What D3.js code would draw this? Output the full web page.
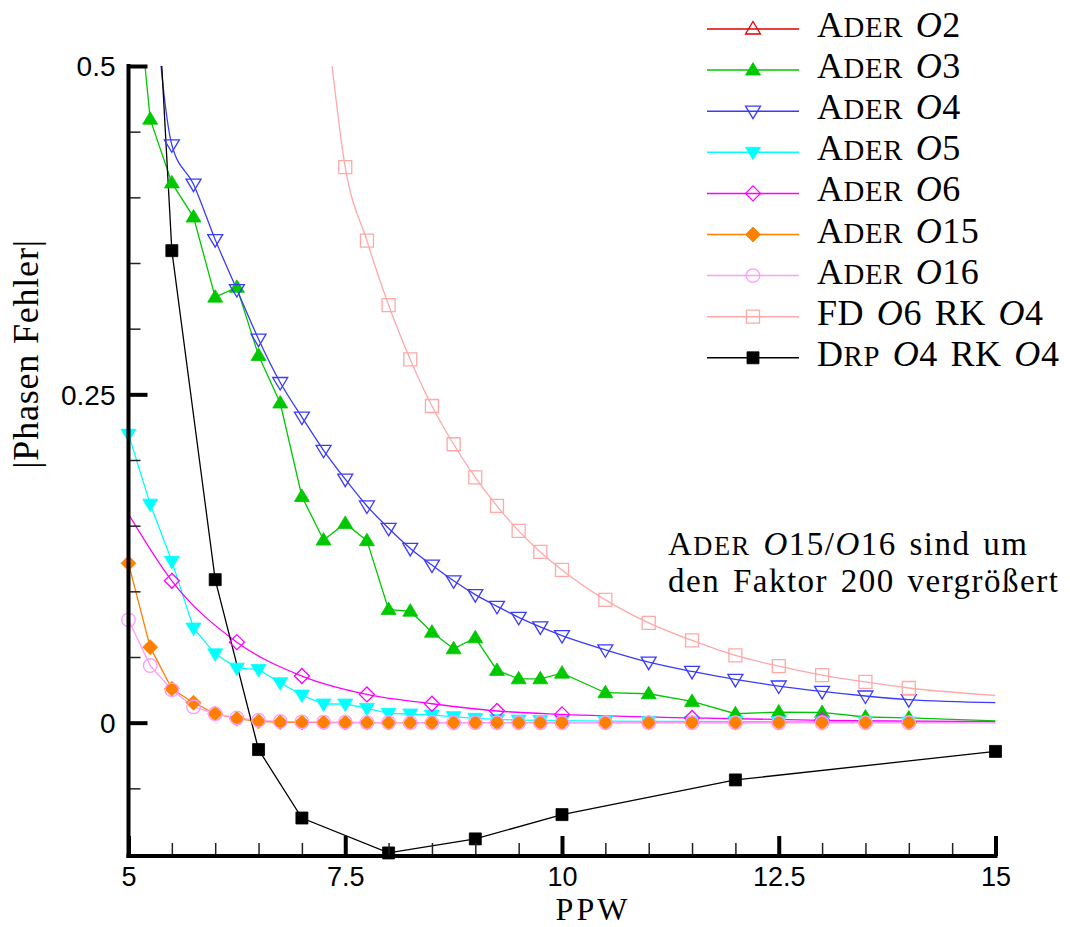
<!DOCTYPE html>
<html>
<head>
<meta charset="utf-8">
<script src="https://cdn.jsdelivr.net/npm/d3@7"></script>
<style>
  html, body { margin: 0; padding: 0; background: #fff; }
  svg { display: block; }
  text { white-space: pre; }
</style>
</head>
<body>
<svg id="chart" width="1070" height="927"></svg>
<script>
// Phase error over points per wavelength (PPW)
const ppw = [5, 5.25, 5.5, 5.75, 6, 6.25, 6.5, 6.75, 7, 7.25, 7.5, 7.75, 8, 8.25, 8.5, 8.75,
             9, 9.25, 9.5, 9.75, 10, 10.5, 11, 11.5, 12, 12.5, 13, 13.5, 14, 15];

const ader3 = [0.63, 0.4595, 0.411, 0.385, 0.324, 0.3315, 0.2796, 0.2434, 0.1722, 0.139,
               0.1517, 0.1386, 0.0861, 0.0849, 0.0689, 0.0562, 0.0646, 0.0398, 0.0334, 0.0334,
               0.0377, 0.0228, 0.022, 0.0162, 0.0068, 0.0081, 0.0078, 0.0043, 0.0036, 0.0013];
const ader4 = [0.8, 0.59, 0.44, 0.41, 0.3678, 0.3298, 0.292, 0.259, 0.2327, 0.2074,
               0.1854, 0.165, 0.148, 0.1327, 0.12, 0.108, 0.0975, 0.0886, 0.0802, 0.0729,
               0.0663, 0.0555, 0.0461, 0.039, 0.0329, 0.0279, 0.0238, 0.0203, 0.0175, 0.0152];
const ader5 = [0.2196, 0.1664, 0.1229, 0.072, 0.0524, 0.0415, 0.0405, 0.0304, 0.021, 0.0142,
               0.0142, 0.0109, 0.0071, 0.0066, 0.0058, 0.0046, 0.0033, 0.0025, 0.002, 0.0017,
               0.0015, 0.0012, 0.001, 0.0009, 0.0008, 0.0007, 0.0006, 0.0005, 0.0005, 0.0004];
const ader15 = [0.1213, 0.0575, 0.0258, 0.0152, 0.0068, 0.003, 0.001, 0.0003, 0.0002, 0.0001,
                0, 0, 0, 0, 0, 0, 0, 0, 0, 0, 0, 0, 0, 0, 0, 0, 0, 0, 0, 0];
const ader16 = [0.0783, 0.0435, 0.025, 0.012, 0.0068, 0.0036, 0.0018, 0.001, 0.0006, 0.0004,
                0.0003, 0.0002, 0.0001, 0, 0, 0, 0, 0, 0, 0, 0, 0, 0, 0, 0, 0, 0, 0, 0, 0];
const fdO6 = [null, null, null, null, null, null, null, null, null, 0.56,
              0.423, 0.367, 0.318, 0.2766, 0.2411, 0.212, 0.1867, 0.165, 0.146, 0.13,
              0.1163, 0.0935, 0.076, 0.0626, 0.0512, 0.043, 0.0362, 0.031, 0.0264, 0.0208];

// ADER O6 is sampled on a coarser set of PPW values
const ader6X = [5, 5.5, 6.25, 7, 7.75, 8.5, 9.25, 10, 11.5, 13, 15];
const ader6Y = [0.1588, 0.108, 0.0613, 0.0355, 0.0215, 0.0144, 0.0089, 0.0063, 0.0036, 0.0018, 0.0008];
const ader6Marked = [5.5, 6.25, 7, 7.75, 8.5, 9.25, 10, 11.5, 13];

// DRP O4 / RK O4 scheme
const drpX = [5, 5.5, 6, 6.5, 7, 8, 9, 10, 12, 15];
const drpY = [0.965, 0.3594, 0.1089, -0.0205, -0.0726, -0.0992, -0.0885, -0.07, -0.0436, -0.0219];

const legendLabels = ["Ader 𝒪2", "Ader 𝒪3", "Ader 𝒪4", "Ader 𝒪5", "Ader 𝒪6",
                      "Ader 𝒪15", "Ader 𝒪16", "FD 𝒪6 RK 𝒪4", "Drp 𝒪4 RK 𝒪4"];
const noteLines = ["Ader 𝒪15/𝒪16 sind um", "den Faktor 200 vergrößert"];

const xMajor = [5, 7.5, 10, 12.5, 15];
const xMinor = [5.5, 6, 6.5, 7, 8, 8.5, 9, 9.5, 10.5, 11, 11.5, 12, 13, 13.5, 14, 14.5];
const yMajor = [0, 0.25, 0.5];
const yMinor = [-0.05, 0.05, 0.1, 0.15, 0.2, 0.3, 0.35, 0.4, 0.45];

const xTitle = "PPW";
const yTitle = "|Phasen Fehler|";

// ---- series table ----
const zipPts = (xs, ys) => xs.map((x, i) => ({x, y: ys[i]})).filter(d => d.y !== null);
const lastX = ppw[ppw.length - 1];
const series = [
  {label: legendLabels[0], color: "#e00000", shape: "triUp",   filled: false, curve: d3.curveLinear, pts: [], marks: () => false},
  {label: legendLabels[1], color: "#00c800", shape: "triUp",   filled: true,  curve: d3.curveLinear, pts: zipPts(ppw, ader3), marks: d => d.x !== lastX},
  {label: legendLabels[2], color: "#3a3aff", shape: "triDown", filled: false, curve: d3.curveMonotoneX, pts: zipPts(ppw, ader4), marks: d => d.x !== lastX},
  {label: legendLabels[3], color: "#00ffff", shape: "triDown", filled: true,  curve: d3.curveLinear, pts: zipPts(ppw, ader5), marks: d => d.x !== lastX},
  {label: legendLabels[4], color: "#ff00ff", shape: "diamond", filled: false, curve: d3.curveMonotoneX, pts: zipPts(ader6X, ader6Y), marks: d => ader6Marked.includes(d.x)},
  {label: legendLabels[5], color: "#ff8000", shape: "diamond", filled: true,  curve: d3.curveLinear, pts: zipPts(ppw, ader15), marks: d => d.x !== lastX},
  {label: legendLabels[6], color: "#ff9cff", shape: "circle",  filled: false, curve: d3.curveLinear, pts: zipPts(ppw, ader16), marks: d => d.x !== lastX},
  {label: legendLabels[7], color: "#ffa8a8", shape: "square",  filled: false, curve: d3.curveMonotoneX, pts: zipPts(ppw, fdO6), marks: d => d.x !== lastX},
  {label: legendLabels[8], color: "#000000", shape: "squareS", filled: true,  curve: d3.curveLinear, pts: zipPts(drpX, drpY), marks: () => true}
];

// ---- layout ----
const svg = d3.select("#chart");
const x = d3.scaleLinear().domain([5, 15]).range([128.5, 995.5]);
const y = d3.scaleLinear().domain([-0.1, 0.5]).range([854, 66]);
const axisY0 = 856;   // baseline of the bottom axis
const SANS = "'Liberation Sans', Arial, Helvetica, sans-serif";
const SERIF = "'Liberation Serif', 'Times New Roman', serif";
const TEXT_SIZE = 36;

svg.append("defs").append("clipPath").attr("id", "plotClip")
  .append("rect").attr("x", x(5)).attr("y", y(0.5)).attr("width", x(15) - x(5)).attr("height", axisY0 - y(0.5));

function markerPath(shape) {
  switch (shape) {
    case "triUp":   return "M0,-7.5L7.5,5L-7.5,5Z";
    case "triDown": return "M0,7.5L7.5,-5L-7.5,-5Z";
    case "diamond": return "M0,-7.5L7.5,0L0,7.5L-7.5,0Z";
    case "square":  return "M-6.5,-6.5H6.5V6.5H-6.5Z";
    case "squareS": return "M-6,-6H6V6H-6Z";
    case "circle":  return d3.symbol(d3.symbolCircle, Math.PI * 6.8 * 6.8)();
  }
}
function drawMarker(g, s, cx, cy) {
  g.append("path").attr("d", markerPath(s.shape))
    .attr("transform", `translate(${cx},${cy})`)
    .attr("fill", s.filled ? s.color : "none")
    .attr("stroke", s.color)
    .attr("stroke-width", s.filled ? 0.8 : 1.3);
}

// ---- series lines and markers ----
const plot = svg.append("g");
const lineLayer = plot.append("g").attr("clip-path", "url(#plotClip)");
series.forEach(s => {
  if (!s.pts.length) return;
  const line = d3.line().x(d => x(d.x)).y(d => y(d.y)).curve(s.curve);
  lineLayer.append("path").datum(s.pts)
    .attr("d", line).attr("fill", "none")
    .attr("stroke", s.color).attr("stroke-width", 1.3);
  const mg = plot.append("g");
  s.pts.filter(d => s.marks(d) && d.y <= 0.5 && d.y >= -0.1)
    .forEach(d => drawMarker(mg, s, x(d.x), y(d.y)));
});

// ---- axes ----
const axes = svg.append("g");
// minor ticks
const yMinorAxis = d3.axisLeft(y).tickValues(yMinor).tickSize(-12).tickFormat("");
axes.append("g").attr("transform", `translate(${x(5)},0)`).call(yMinorAxis)
  .call(g => g.select(".domain").remove())
  .call(g => g.selectAll("line").attr("stroke", "#222").attr("stroke-width", 1.5));
const xMinorAxis = d3.axisBottom(x).tickValues(xMinor).tickSize(-13).tickFormat("");
axes.append("g").attr("transform", `translate(0,${axisY0})`).call(xMinorAxis)
  .call(g => g.select(".domain").remove())
  .call(g => g.selectAll("line").attr("stroke", "#222").attr("stroke-width", 1.5));
// major ticks with labels
const yMajorAxis = d3.axisLeft(y).tickValues(yMajor).tickSize(-19).tickPadding(13).tickFormat(d => String(d));
axes.append("g").attr("transform", `translate(${x(5)},0)`).call(yMajorAxis)
  .call(g => g.select(".domain").remove())
  .call(g => g.selectAll("line").attr("stroke", "#000").attr("stroke-width", 4))
  .call(g => g.selectAll("text").attr("font-family", SANS).attr("font-size", 28).attr("fill", "#000").attr("dy", "0.35em"));
const xMajorAxis = d3.axisBottom(x).tickValues(xMajor).tickSize(-20).tickPadding(11).tickFormat(d => String(d));
axes.append("g").attr("transform", `translate(0,${axisY0})`).call(xMajorAxis)
  .call(g => g.select(".domain").remove())
  .call(g => g.selectAll("line").attr("stroke", "#000").attr("stroke-width", 4))
  .call(g => g.selectAll("text").attr("font-family", SANS).attr("font-size", 27).attr("fill", "#000"));
// axis lines
axes.append("line").attr("x1", x(5)).attr("x2", x(5)).attr("y1", y(0.5) - 2).attr("y2", axisY0 + 2)
  .attr("stroke", "#000").attr("stroke-width", 4);
axes.append("line").attr("x1", x(5) - 2).attr("x2", x(15) + 2).attr("y1", axisY0).attr("y2", axisY0)
  .attr("stroke", "#000").attr("stroke-width", 4);

// ---- text helpers: small caps words and calligraphic O ----
function texText(sel, str, size, spacing) {
  sel.attr("letter-spacing", spacing).attr("word-spacing", 3);
  str.split(/(𝒪|Ader|Drp)/u).filter(p => p.length).forEach(p => {
    if (p === "𝒪") {
      sel.append("tspan").attr("font-style", "italic").attr("font-size", size).text("O");
    } else if (p === "Ader" || p === "Drp") {
      sel.append("tspan").attr("font-size", size).text(p[0]);
      sel.append("tspan").attr("font-size", size * 0.8).text(p.slice(1).toUpperCase());
    } else {
      sel.append("tspan").attr("font-size", size).text(p);
    }
  });
}

// axis titles
svg.append("text").attr("x", 593).attr("y", 920).attr("text-anchor", "middle")
  .attr("font-family", SERIF).attr("font-size", 32).attr("letter-spacing", 3).text(xTitle);
svg.append("text").attr("transform", "translate(38,354) rotate(-90)").attr("text-anchor", "middle")
  .attr("font-family", SERIF).attr("font-size", TEXT_SIZE).attr("letter-spacing", 0.8).text(yTitle);

// ---- legend ----
const legend = svg.append("g");
series.forEach((s, i) => {
  const ly = 29 + i * 41.1;
  legend.append("line").attr("x1", 707).attr("x2", 799).attr("y1", ly).attr("y2", ly)
    .attr("stroke", s.color).attr("stroke-width", 1.5);
  drawMarker(legend, s, 753, ly);
  const t = legend.append("text").attr("x", 817).attr("y", ly + 8).attr("font-family", SERIF).attr("fill", "#000");
  texText(t, s.label, TEXT_SIZE, 0.6);
});

// ---- note ----
noteLines.forEach((l, i) => {
  const t = svg.append("text").attr("x", 668).attr("y", 555 + i * 37).attr("font-family", SERIF).attr("fill", "#000");
  texText(t, l, 33, 1.5);
});
</script>
</body>
</html>
